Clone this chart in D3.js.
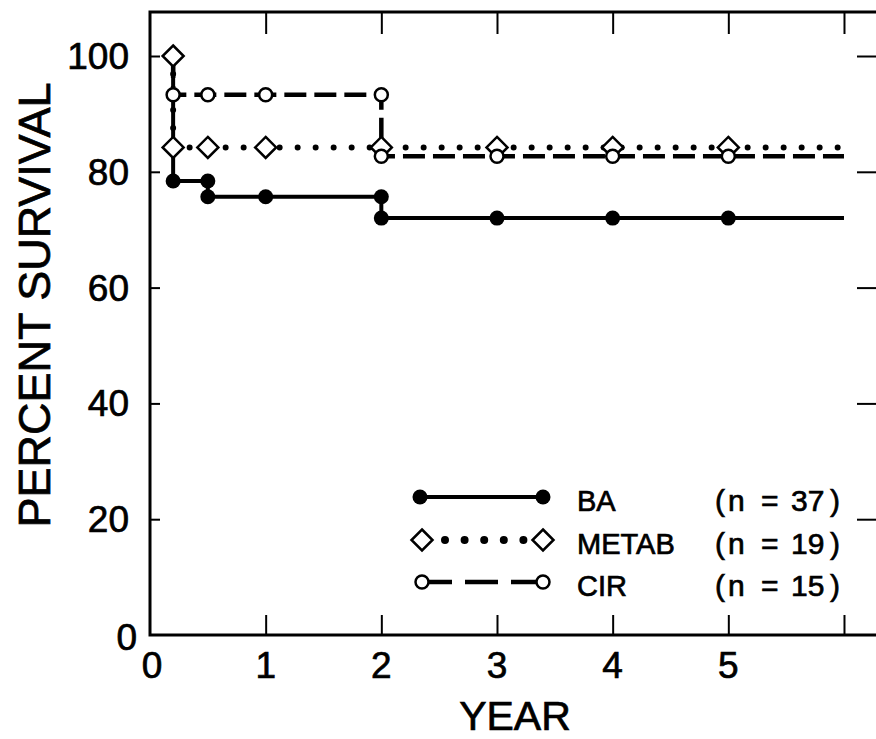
<!DOCTYPE html>
<html>
<head>
<meta charset="utf-8">
<script src="https://cdn.jsdelivr.net/npm/d3@7"></script>
<style>
  html, body { margin: 0; padding: 0; background: #fff; }
  svg { display: block; }
  text { font-family: "Liberation Sans", Arial, Helvetica, sans-serif; fill: #000; stroke: #000; stroke-width: 0.7px; }
</style>
</head>
<body>
<svg id="chart" width="876" height="739"></svg>
<script>
// ---------------- data ----------------
const xTickValues = [0, 1, 2, 3, 4, 5, 6];
const xTickLabels = ["0", "1", "2", "3", "4", "5", ""];
const yTickValues = [0, 20, 40, 60, 80, 100];
const yTickLabels = ["0", "20", "40", "60", "80", "100"];
const followUpEnd = 6;

const seriesNames = ["BA", "METAB", "CIR"];
const seriesN = [37, 19, 15];

// BA
const baYears    = [0.2, 0.2, 0.5, 0.5, 1, 2, 2, 3, 4, 5];
const baSurvival = [100, 78.4, 78.4, 75.7, 75.7, 75.7, 72, 72, 72, 72];
// METAB
const metabYears    = [0.2, 0.2, 0.5, 1, 2, 3, 4, 5];
const metabSurvival = [100, 84.2, 84.2, 84.2, 84.2, 84.2, 84.2, 84.2];
// CIR (line starts at 100 before first drop; markers from 93.3)
const cirLineYears    = [0.2];
const cirLineSurvival = [100];
const cirYears    = [0.2, 0.5, 1, 2, 2, 3, 4, 5];
const cirSurvival = [93.3, 93.3, 93.3, 93.3, 82.7, 82.7, 82.7, 82.7];

// ---------------- layout ----------------
const svg = d3.select("#chart");
const x = d3.scaleLinear().domain([0, 6.32]).range([150, 881]);
const y = d3.scaleLinear().domain([0, 107.6]).range([635, 12]);
const black = "#000";

svg.append("rect")
  .attr("x", x(0)).attr("y", y(107.6))
  .attr("width", x(6.32) - x(0)).attr("height", y(0) - y(107.6))
  .attr("fill", "none").attr("stroke", black).attr("stroke-width", 3);

function styleTicks(g) {
  g.select(".domain").remove();
  g.selectAll(".tick line").attr("stroke", black).attr("stroke-width", 2);
}
svg.append("g").attr("transform", `translate(0,${y(0)})`)
  .call(d3.axisBottom(x).tickValues(xTickValues.slice(1)).tickSize(-20).tickFormat("")).call(styleTicks);
svg.append("g").attr("transform", `translate(0,${y(107.6)})`)
  .call(d3.axisTop(x).tickValues(xTickValues.slice(1)).tickSize(-22).tickFormat("")).call(styleTicks);
svg.append("g").attr("transform", `translate(${x(0)},0)`)
  .call(d3.axisLeft(y).tickValues(yTickValues.slice(1)).tickSize(-10).tickFormat("")).call(styleTicks);
svg.append("g").attr("transform", `translate(${x(6.32)},0)`)
  .call(d3.axisRight(y).tickValues(yTickValues.slice(1)).tickSize(-24).tickFormat("")).call(styleTicks);

svg.append("g").selectAll("text").data(xTickValues).join("text")
  .attr("x", d => x(d) + (d === 0 ? 2 : 0))
  .attr("y", 678)
  .attr("text-anchor", "middle")
  .attr("font-size", 37)
  .text((d, i) => xTickLabels[i]);

svg.append("g").selectAll("text").data(yTickValues).join("text")
  .attr("x", d => d === 0 ? 137 : 129)
  .attr("y", d => y(d) + 13 + (d === 0 ? 2 : 0))
  .attr("text-anchor", "end")
  .attr("font-size", 37)
  .text((d, i) => yTickLabels[i]);

svg.append("text")
  .attr("transform", "translate(50,305) rotate(-90)")
  .attr("text-anchor", "middle")
  .attr("font-size", 45)
  .text("PERCENT SURVIVAL");
svg.append("text")
  .attr("x", 515).attr("y", 730)
  .attr("text-anchor", "middle")
  .attr("font-size", 41)
  .text("YEAR");

// ---------------- series ----------------
const line = d3.line().x(d => x(d[0])).y(d => y(d[1]));
function pts(xs, ys) { return xs.map((v, i) => [v, ys[i]]); }

const baPts = pts(baYears, baSurvival);
const metabPts = pts(metabYears, metabSurvival);
const cirPts = pts(cirYears, cirSurvival);

const baLine = baPts.concat([[followUpEnd, baSurvival[baSurvival.length - 1]]]);
const metabLine = metabPts.concat([[followUpEnd, metabSurvival[metabSurvival.length - 1]]]);
const cirLine = pts(cirLineYears, cirLineSurvival).concat(cirPts)
  .concat([[followUpEnd, cirSurvival[cirSurvival.length - 1]]]);

svg.append("path").datum(baLine).attr("d", line)
  .attr("fill", "none").attr("stroke", black).attr("stroke-width", 4);
svg.append("path").datum(metabLine).attr("d", line)
  .attr("fill", "none").attr("stroke", black).attr("stroke-width", 6)
  .attr("stroke-linecap", "round").attr("stroke-dasharray", "0 18");
svg.append("path").datum(cirLine).attr("d", line)
  .attr("fill", "none").attr("stroke", black).attr("stroke-width", 4.5)
  .attr("stroke-dasharray", "22 8");

const diamond = r => `M0,${-r}L${r},0L0,${r}L${-r},0Z`;

svg.append("g").selectAll("circle").data(baPts).join("circle")
  .attr("cx", d => x(d[0])).attr("cy", d => y(d[1])).attr("r", 7.5)
  .attr("fill", black);
svg.append("g").selectAll("path").data(metabPts).join("path")
  .attr("transform", d => `translate(${x(d[0])},${y(d[1])})`)
  .attr("d", diamond(10.5))
  .attr("fill", "#fff").attr("stroke", black).attr("stroke-width", 2.5);
svg.append("g").selectAll("circle").data(cirPts).join("circle")
  .attr("cx", d => x(d[0])).attr("cy", d => y(d[1])).attr("r", 6.5)
  .attr("fill", "#fff").attr("stroke", black).attr("stroke-width", 2.5);

// ---------------- legend ----------------
const legRowY = [497, 540, 582];
const legX0 = 422, legX1 = 543;
const leg = svg.append("g");

leg.append("line").attr("x1", legX0).attr("x2", legX1).attr("y1", legRowY[0]).attr("y2", legRowY[0])
  .attr("stroke", black).attr("stroke-width", 4);
leg.selectAll(".lba").data([legX0 - 2, legX1]).join("circle")
  .attr("cx", d => d).attr("cy", legRowY[0]).attr("r", 7.5).attr("fill", black);

leg.append("line").attr("x1", 445).attr("x2", 524).attr("y1", legRowY[1]).attr("y2", legRowY[1])
  .attr("stroke", black).attr("stroke-width", 8).attr("stroke-linecap", "round")
  .attr("stroke-dasharray", "0 19.6");
leg.selectAll(".lmet").data([legX0, legX1]).join("path")
  .attr("transform", d => `translate(${d},${legRowY[1]})`)
  .attr("d", diamond(10.5)).attr("fill", "#fff").attr("stroke", black).attr("stroke-width", 2.5);

leg.append("line").attr("x1", legX0).attr("x2", legX1).attr("y1", legRowY[2]).attr("y2", legRowY[2])
  .attr("stroke", black).attr("stroke-width", 4.5).attr("stroke-dasharray", "30 13 33 13 40");
leg.selectAll(".lcir").data([legX0, legX1]).join("circle")
  .attr("cx", d => d).attr("cy", legRowY[2]).attr("r", 6.5)
  .attr("fill", "#fff").attr("stroke", black).attr("stroke-width", 2.5);

leg.selectAll(".lname").data(seriesNames).join("text")
  .attr("x", 577).attr("y", (d, i) => legRowY[i] + 14)
  .attr("font-size", 29).text(d => d);

const nParts = leg.selectAll(".ln").data(seriesN).join("text")
  .attr("y", (d, i) => legRowY[i] + 14)
  .attr("font-size", 30);
nParts.each(function (d) {
  const t = d3.select(this);
  const parts = [["(", 715], ["n", 728], ["=", 761], [String(d), 791], [")", 830]];
  parts.forEach(p => t.append("tspan").attr("x", p[1]).text(p[0]));
});
</script>
</body>
</html>
